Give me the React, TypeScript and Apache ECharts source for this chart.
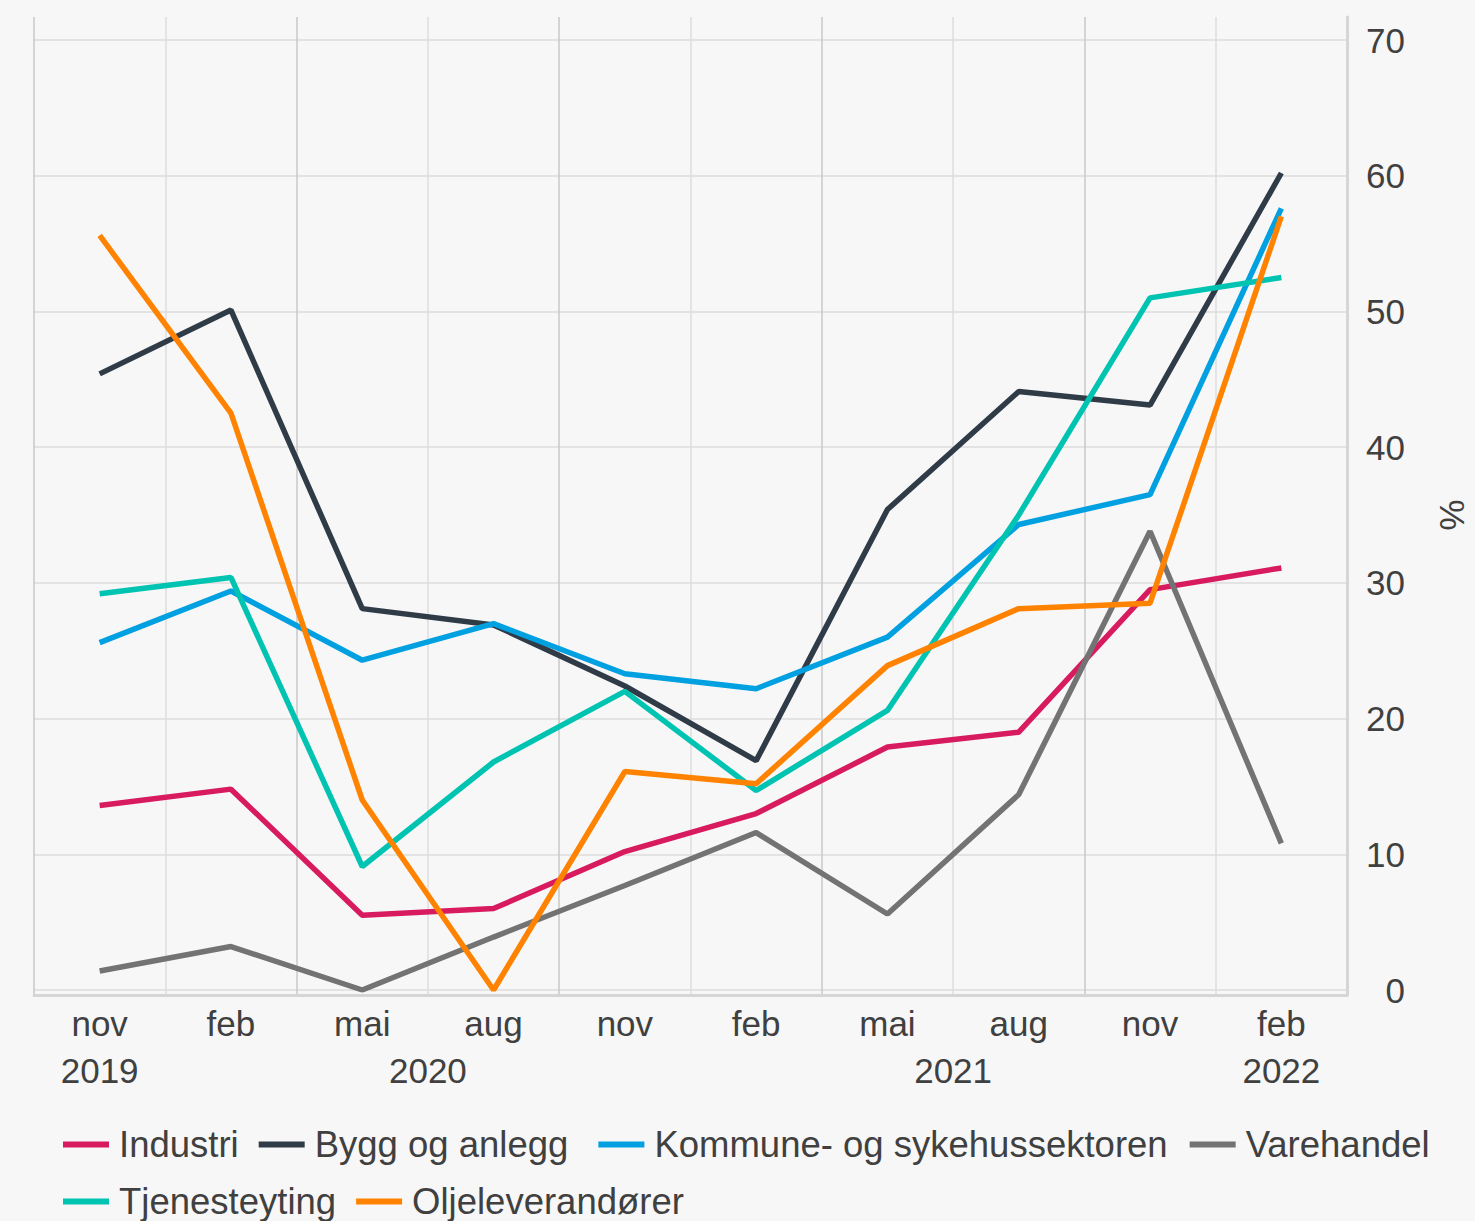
import React, { useEffect, useRef } from 'react';
import * as echarts from 'echarts';

const months = ['nov', 'feb', 'mai', 'aug', 'nov', 'feb', 'mai', 'aug', 'nov', 'feb'];
const years = ['2019', '2020', '2021', '2022'];
const yearPositions = [0.5, 3, 7, 9.5];

const industri = [13.6, 14.8, 5.5, 6.0, 10.2, 13.0, 17.9, 19.0, 29.5, 31.1];
const bygg = [45.4, 50.1, 28.1, 26.9, 22.4, 16.9, 35.4, 44.1, 43.1, 60.2];
const kommune = [25.6, 29.4, 24.3, 27.0, 23.3, 22.2, 26.0, 34.3, 36.5, 57.6];
const varehandel = [1.4, 3.2, 0.0, 3.9, 7.7, 11.6, 5.6, 14.4, 33.8, 10.8];
const tjeneste = [29.2, 30.4, 9.1, 16.8, 22.0, 14.7, 20.6, 35.0, 51.0, 52.5];
const olje = [55.6, 42.5, 14.0, 0.0, 16.1, 15.2, 23.9, 28.1, 28.5, 57.0];

const seriesNames = ['Industri', 'Bygg og anlegg', 'Kommune- og sykehussektoren', 'Varehandel', 'Tjenesteyting', 'Oljeleverandører'];
const seriesData = [industri, bygg, kommune, varehandel, tjeneste, olje];
const seriesColors = ['#d81b5f', '#2f3b47', '#00a0e1', '#737373', '#00c4b1', '#ff8300'];
const legendExtraGap = [0, 10, 2, 0, 0, 0];

const FONT = 'Liberation Sans, Arial, sans-serif';
const TEXT = '#404040';

export default function App() {
  const ref = useRef<HTMLDivElement>(null);
  useEffect(() => {
    document.body.style.margin = '0';
    document.body.style.background = '#f7f7f7';
    const chart = echarts.init(ref.current!, null, { renderer: 'svg' });
    chart.setOption({
      animation: false,
      backgroundColor: '#f7f7f7',
      textStyle: { fontFamily: FONT },
      grid: [
        { left: 34, right: 128, top: 40, bottom: 231, containLabel: false, outerBoundsMode: 'none' },
        { left: 34, right: 128, top: 17, bottom: 226, containLabel: false, outerBoundsMode: 'none' },
      ],
      xAxis: [
        {
          type: 'category',
          gridIndex: 0,
          data: months,
          boundaryGap: true,
          axisLine: { show: false },
          axisTick: { show: false },
          splitLine: { show: false },
          axisLabel: { fontSize: 35, color: TEXT, margin: 16, interval: 0, fontFamily: FONT },
        },
        {
          type: 'category',
          gridIndex: 1,
          data: months,
          boundaryGap: true,
          axisLine: { show: true, lineStyle: { color: '#d6d6d6', width: 3 } },
          axisTick: { show: false },
          axisLabel: { show: false },
          splitLine: { show: true, interval: 0, lineStyle: { color: ['#c8c8c8', '#dedede'], width: 1.5 } },
        },
        {
          type: 'value',
          gridIndex: 0,
          position: 'bottom',
          min: 0,
          max: 10,
          interval: 0.5,
          axisLine: { show: false },
          axisTick: { show: false },
          splitLine: { show: false },
          axisLabel: {
            fontSize: 35,
            color: TEXT,
            margin: 63,
            fontFamily: FONT,
            showMinLabel: true,
            showMaxLabel: true,
            hideOverlap: false,
            formatter: (v: number) => {
              const i = yearPositions.findIndex((p) => Math.abs(p - v) < 1e-6);
              return i >= 0 ? years[i] : '';
            },
          },
        },
      ],
      yAxis: [
        {
          type: 'value',
          gridIndex: 0,
          position: 'right',
          min: 0,
          max: 70,
          interval: 10,
          axisLine: { show: false },
          axisTick: { show: false },
          splitLine: { show: true, lineStyle: { color: '#dcdcdc', width: 1.5 } },
          axisLabel: { fontSize: 35, color: TEXT, align: 'right', margin: 58, fontFamily: FONT },
          name: '%',
          nameLocation: 'middle',
          nameGap: 88,
          nameRotate: -90,
          nameTextStyle: { fontSize: 35, color: TEXT, fontFamily: FONT },
        },
        {
          type: 'value',
          gridIndex: 1,
          position: 'right',
          min: 0,
          max: 1,
          axisLine: { show: true, lineStyle: { color: '#d6d6d6', width: 3 } },
          axisTick: { show: false },
          axisLabel: { show: false },
          splitLine: { show: false },
        },
      ],
      legend: {
        data: seriesNames.map((name, i) => ({
          name,
          textStyle: { padding: [0, legendExtraGap[i], 0, 5] },
        })),
        icon: 'rect',
        itemWidth: 46,
        itemHeight: 6,
        itemGap: 20,
        left: 63,
        top: 1126,
        width: 1400,
        padding: 0,
        textStyle: { fontSize: 36.5, color: TEXT, lineHeight: 35, fontFamily: FONT, padding: [0, 0, 0, 5] },
      },
      series: seriesNames.map((name, i) => ({
        name,
        type: 'line',
        xAxisIndex: 0,
        yAxisIndex: 0,
        data: seriesData[i],
        symbol: 'none',
        showSymbol: false,
        color: seriesColors[i],
        lineStyle: { width: 5.5, color: seriesColors[i] },
        itemStyle: { color: seriesColors[i] },
      })),
    });
    return () => chart.dispose();
  }, []);
  return <div ref={ref} style={{ width: 1475, height: 1221, background: '#f7f7f7' }} />;
}
